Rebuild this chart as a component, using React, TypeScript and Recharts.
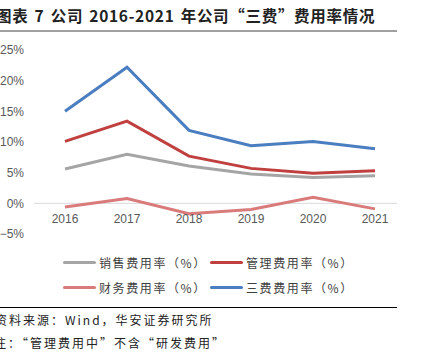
import { LineChart, Line, XAxis, YAxis, ReferenceLine } from "recharts";

const YEARS = ["2016", "2017", "2018", "2019", "2020", "2021"];
const SALES = [5.6, 8.0, 6.1, 4.8, 4.2, 4.5];
const ADMIN = [10.1, 13.4, 7.7, 5.7, 4.9, 5.3];
const FINANCE = [-0.6, 0.8, -1.7, -1.0, 1.0, -0.9];
const TOTAL = [15.0, 22.2, 11.9, 9.4, 10.1, 8.9];
const Y_TICKS = [-5, 0, 5, 10, 15, 20, 25];

const SERIES = [
  { key: "sales", name: "销售费用率（%）", color: "#a5a5a5", values: SALES },
  { key: "admin", name: "管理费用率（%）", color: "#c0403f", values: ADMIN },
  { key: "finance", name: "财务费用率（%）", color: "#d97b7b", values: FINANCE },
  { key: "total", name: "三费费用率（%）", color: "#4a7ec0", values: TOTAL },
];

const data = YEARS.map((year, i) => {
  const row: Record<string, string | number> = { year };
  SERIES.forEach((s) => (row[s.key] = s.values[i]));
  return row;
});

const CJK = '"Noto Sans CJK SC", "Noto Sans", sans-serif';

function XTick({ x, y, payload }: any) {
  return (
    <text x={x} y={y - 19} textAnchor="middle" fill="#595959" fontSize={12} fontFamily="Liberation Sans, Arial, sans-serif">
      {payload.value}
    </text>
  );
}

function LegendItem({ name, color }: { name: string; color: string }) {
  return (
    <div style={{ display: "flex", alignItems: "center", width: 147 }}>
      <div style={{ width: 33, height: 3, background: color, borderRadius: 2, marginRight: 3 }} />
      <span style={{ fontSize: 12, letterSpacing: 1.6, color: "#404040" }}>{name}</span>
    </div>
  );
}

export default function App() {
  return (
    <div style={{ position: "absolute", left: 0, top: 0, width: 424, height: 355, background: "#fff", overflow: "hidden", fontFamily: CJK }}>
      <div style={{ position: "absolute", left: -4, top: 4, fontSize: 15.5, fontWeight: 700, letterSpacing: 0.7, wordSpacing: 2, whiteSpace: "nowrap", color: "#222" }}>
        图表 7 公司 2016-2021 年公司“三费”费用率情况
      </div>
      <div style={{ position: "absolute", left: 0, top: 30, width: 397, height: 2, background: "#a0a0a0" }} />

      <div style={{ position: "absolute", left: 0, top: 0 }}>
        <LineChart width={424} height={300} data={data} margin={{ top: 50, right: 27, left: 0, bottom: 46 }}>
          <ReferenceLine y={0} stroke="#d9d9d9" strokeWidth={1} />
          <XAxis
            dataKey="year"
            axisLine={false}
            tickLine={false}
            tick={<XTick />}
            height={20}
            interval={0}
            padding={{ left: 31, right: 22 }}
          />
          <YAxis
            width={34}
            domain={[-5, 25]}
            ticks={Y_TICKS}
            interval={0}
            axisLine={false}
            tickLine={false}
            tickMargin={4}
            tick={{ fill: "#595959", fontSize: 12, fontFamily: "Liberation Sans, Arial, sans-serif" }}
            tickFormatter={(v: number) => (v < 0 ? `−${-v}%` : `${v}%`)}
          />
          {SERIES.map((s) => (
            <Line
              key={s.key}
              dataKey={s.key}
              name={s.name}
              stroke={s.color}
              strokeWidth={3}
              dot={false}
              type="linear"
              isAnimationActive={false}
            />
          ))}
        </LineChart>
      </div>

      <div style={{ position: "absolute", left: 63, top: 254, display: "flex", flexWrap: "wrap", width: 300, rowGap: 8 }}>
        {SERIES.map((s) => (
          <LegendItem key={s.key} name={s.name} color={s.color} />
        ))}
      </div>

      <div style={{ position: "absolute", left: 0, top: 307, width: 397, height: 1, background: "#000" }} />
      <div style={{ position: "absolute", left: -5, top: 311, fontSize: 12, letterSpacing: 2, whiteSpace: "nowrap", color: "#222" }}>
        资料来源：Wind，华安证券研究所
      </div>
      <div style={{ position: "absolute", left: -6, top: 334, fontSize: 12, letterSpacing: 2, whiteSpace: "nowrap", color: "#222" }}>
        注：“管理费用中”不含“研发费用”
      </div>
    </div>
  );
}
